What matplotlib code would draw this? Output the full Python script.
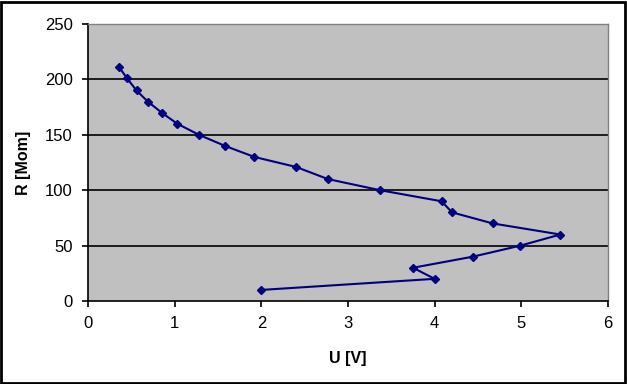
import matplotlib
matplotlib.use("Agg")
import matplotlib.pyplot as plt
from matplotlib.patches import Rectangle

# values
u_volts = [0.36, 0.45, 0.56, 0.69, 0.85, 1.03, 1.28, 1.58, 1.92, 2.40, 2.77,
           3.37, 4.08, 4.20, 4.67, 5.45, 4.99, 4.44, 3.75, 4.00, 2.00]
r_mom = [211, 201, 190, 180, 170, 160, 150, 140, 130, 121, 110,
         100, 90, 80, 70, 60, 50, 40, 30, 20, 10]
x_ticks = [0, 1, 2, 3, 4, 5, 6]
y_ticks = [0, 50, 100, 150, 200, 250]

plt.rcParams['font.family'] = ['Liberation Sans', 'DejaVu Sans']

fig = plt.figure(figsize=(6.27, 3.84), dpi=100)
W, H = 627, 384
ax = fig.add_axes([88 / W, 1 - 301 / H, (608 - 88) / W, (301 - 24) / H])
ax.set_facecolor('#c0c0c0')

ax.plot(u_volts, r_mom, '-D', color='#000080', lw=1.5, ms=4.5, zorder=3)

ax.set_xlim(0, 6)
ax.set_ylim(0, 250)
ax.set_xticks(x_ticks)
ax.set_yticks(y_ticks)
for y in y_ticks[1:-1]:
    ax.axhline(y, color='black', lw=1.2, zorder=1)

for side in ['top', 'right']:
    ax.spines[side].set_color('#808080')
    ax.spines[side].set_linewidth(1)
for side in ['left', 'bottom']:
    ax.spines[side].set_color('black')
    ax.spines[side].set_linewidth(1.2)

ax.tick_params(direction='out', length=4, width=1.2, labelsize=12, pad=7)
ax.set_xlabel("U [V]", fontsize=11.5, fontweight='bold', labelpad=14)
ax.set_ylabel("R [Mom]", fontsize=11.5, fontweight='bold', labelpad=10)

# outer frame around the whole picture
fig.patches.append(Rectangle((0.002, 0.003), 0.995, 0.993, transform=fig.transFigure,
                             fill=False, edgecolor='black', lw=2))

fig.savefig("out.png", dpi=100)
